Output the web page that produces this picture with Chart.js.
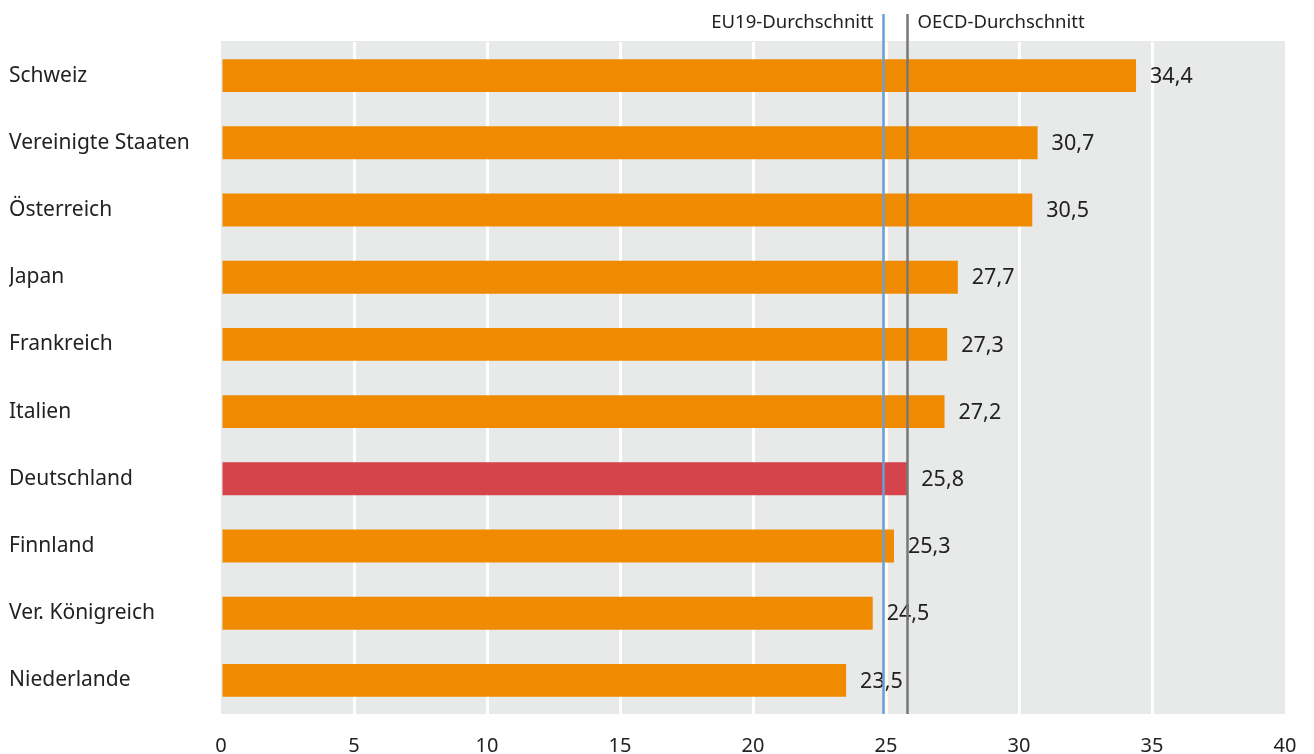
<!DOCTYPE html>
<html>
<head>
<meta charset="utf-8">
<script src="https://cdn.jsdelivr.net/npm/chart.js"></script>
<style>
  html, body { margin: 0; padding: 0; background: #fff; overflow: hidden; }
  canvas { display: block; }
</style>
</head>
<body>
<canvas id="chart" width="1314" height="754"></canvas>
<script>
var countries = ['Schweiz', 'Vereinigte Staaten', 'Österreich', 'Japan', 'Frankreich',
  'Italien', 'Deutschland', 'Finnland', 'Ver. Königreich', 'Niederlande'];
var values = [34.4, 30.7, 30.5, 27.7, 27.3, 27.2, 25.8, 25.3, 24.5, 23.5];
var xTicks = [0, 5, 10, 15, 20, 25, 30, 35, 40];
var refNames = ['EU19-Durchschnitt', 'OECD-Durchschnitt'];
var refValues = [24.9, 25.8];

var FONT = '"Noto Sans", "Open Sans", sans-serif';
var barColors = countries.map(function (c) {
  return c === 'Deutschland' ? '#d4444a' : '#f08a00';
});

function fmt(v) { return v.toFixed(1).replace('.', ','); }

// grey plot background
var bgPlugin = {
  id: 'bg',
  beforeDraw: function (chart) {
    var a = chart.chartArea, ctx = chart.ctx;
    ctx.save();
    ctx.fillStyle = '#e8e9e9';
    ctx.fillRect(a.left, a.top - 1, a.right - a.left, a.bottom - a.top + 1);
    ctx.restore();
  }
};

// value labels + average lines
var extrasPlugin = {
  id: 'extras',
  afterDatasetsDraw: function (chart) {
    var ctx = chart.ctx, x = chart.scales.x, a = chart.chartArea;
    var meta = chart.getDatasetMeta(0);
    ctx.save();
    ctx.font = '21.5px ' + FONT;
    ctx.fillStyle = '#222';
    ctx.textBaseline = 'middle';
    ctx.textAlign = 'left';
    meta.data.forEach(function (bar, i) {
      ctx.fillText(fmt(values[i]), bar.x + 14, bar.y + 1);
    });

    var colors = ['#6a9fd6', '#777777'];
    refValues.forEach(function (v, i) {
      var px = Math.round(x.getPixelForValue(v)) + 0.5;
      ctx.strokeStyle = colors[i];
      ctx.lineWidth = 2.5;
      ctx.beginPath();
      ctx.moveTo(px, 14);
      ctx.lineTo(px, a.bottom);
      ctx.stroke();
      ctx.font = '18.5px ' + FONT;
      ctx.fillStyle = '#222';
      ctx.textBaseline = 'middle';
      if (i === 0) {
        ctx.textAlign = 'right';
        ctx.fillText(refNames[i], px - 10, 23);
      } else {
        ctx.textAlign = 'left';
        ctx.fillText(refNames[i], px + 10, 23);
      }
    });
    ctx.restore();
  }
};

new Chart(document.getElementById('chart'), {
  type: 'bar',
  data: {
    labels: countries,
    datasets: [{
      data: values,
      backgroundColor: barColors,
      barPercentage: 0.98,
      categoryPercentage: 0.5
    }]
  },
  options: {
    indexAxis: 'y',
    responsive: false,
    animation: false,
    layout: { padding: { top: 42, right: 29, left: 9, bottom: 0 } },
    plugins: {
      legend: { display: false },
      tooltip: { enabled: false }
    },
    scales: {
      x: {
        min: 0,
        max: 40,
        afterBuildTicks: function (s) {
          s.ticks = xTicks.map(function (v) { return { value: v }; });
        },
        grid: {
          color: function (c) {
            var v = c.tick ? c.tick.value : null;
            return (v === 0 || v === 40) ? 'rgba(0,0,0,0)' : '#ffffff';
          },
          lineWidth: 3,
          drawTicks: false
        },
        border: { display: false },
        ticks: {
          font: { family: FONT, size: 20 },
          color: '#222',
          padding: 20,
          maxRotation: 0
        },
        afterFit: function (s) {
          s.height = 40;
          s.paddingLeft = 0;
          s.paddingRight = 0;
        }
      },
      y: {
        grid: { display: false },
        border: { display: false },
        ticks: {
          font: { family: FONT, size: 21 },
          color: '#222',
          crossAlign: 'far',
          padding: 0
        },
        afterFit: function (s) { s.width = 212; }
      }
    }
  },
  plugins: [bgPlugin, extrasPlugin]
});
</script>
</body>
</html>
